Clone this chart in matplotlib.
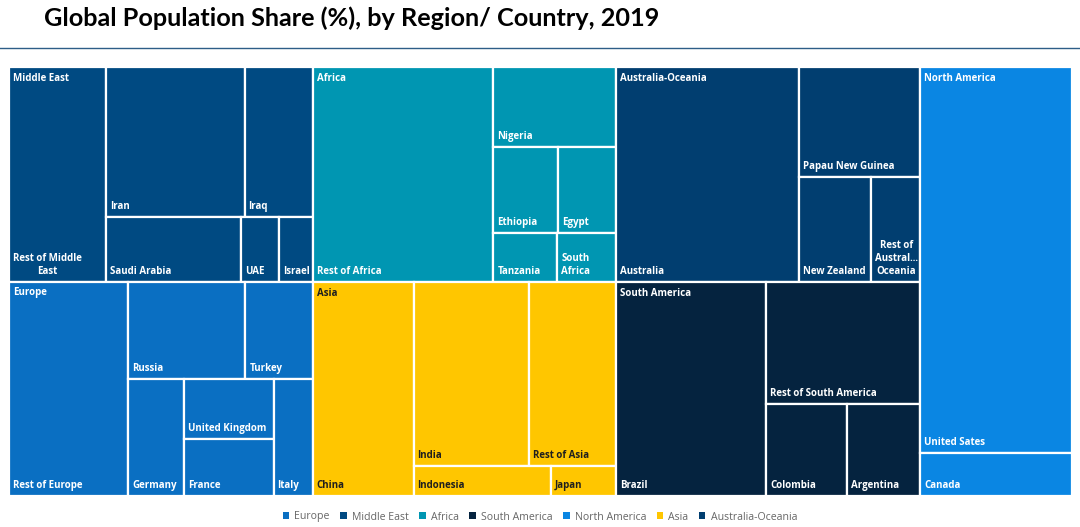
import numpy as np
import matplotlib
matplotlib.use('Agg')
import matplotlib.pyplot as plt
from matplotlib.patches import Rectangle, Patch

# region order as it is laid out in the treemap (each region sums to 100 %)
regions = ['Middle East', 'Europe', 'Africa', 'Asia',
           'Australia-Oceania', 'South America', 'North America']
region_colors = ['#004a82', '#0a6fc2', '#0096b2', '#ffc600',
                 '#013e70', '#05233f', '#0a86e3']
legend_order = ['Europe', 'Middle East', 'Africa', 'South America',
                'North America', 'Asia', 'Australia-Oceania']

me_names = ['Rest of Middle\nEast', 'Iran', 'Iraq', 'Saudi Arabia', 'UAE', 'Israel']
me_share = [32.0, 31.9, 15.7, 13.3, 3.8, 3.3]
eu_names = ['Rest of Europe', 'Russia', 'Turkey', 'Germany', 'United Kingdom', 'France', 'Italy']
eu_share = [39.3, 17.6, 10.1, 10.0, 8.2, 7.8, 7.0]
af_names = ['Rest of Africa', 'Nigeria', 'Ethiopia', 'Egypt', 'Tanzania', 'South\nAfrica']
af_share = [59.5, 15.1, 8.6, 7.7, 4.7, 4.4]
as_names = ['China', 'India', 'Rest of Asia', 'Indonesia', 'Japan']
as_share = [33.2, 32.6, 24.9, 6.3, 3.0]
oc_names = ['Australia', 'Papau New Guinea', 'New Zealand', 'Rest of\nAustral...\nOceania']
oc_share = [60.1, 20.5, 11.5, 7.9]
sa_names = ['Brazil', 'Rest of South America', 'Colombia', 'Argentina']
sa_share = [49.3, 29.0, 11.4, 10.3]
na_names = ['United Sates', 'Canada']
na_share = [90.0, 10.0]

leaf_names = [me_names, eu_names, af_names, as_names, oc_names, sa_names, na_names]
leaf_share = [me_share, eu_share, af_share, as_share, oc_share, sa_share, na_share]
region_totals = [sum(s) for s in leaf_share]


def worst(areas, side, column, T=1.2):
    # thickness of the strip and aspect (h/w) of every cell in it
    t = sum(areas) / side
    if column:
        asp = [(a / t) / t for a in areas]
    else:
        asp = [t / (a / t) for a in areas]
    return max(abs(np.log(r / T)) for r in asp)


def squarify(values, x, y, w, h):
    scale = w * h / float(sum(values))
    areas = [v * scale for v in values]
    rects = []
    i = 0
    n = len(areas)
    while i < n:
        column = w >= h
        side = h if column else w
        row = [areas[i]]
        best = worst(row, side, column)
        j = i + 1
        while j < n:
            c = worst(row + [areas[j]], side, column)
            if c > best:
                break
            row.append(areas[j])
            best = c
            j += 1
        t = sum(row) / side
        if column:
            yy = y
            for a in row:
                rects.append((x, yy, t, a / t))
                yy += a / t
            x += t
            w -= t
        else:
            xx = x
            for a in row:
                rects.append((xx, y, a / t, t))
                xx += a / t
            y += t
            h -= t
        i = j
    return rects


W, H = 1063.0, 429.0
fig = plt.figure(figsize=(10.8, 5.27), dpi=100)
ax = fig.add_axes([9 / 1080., 31 / 527., W / 1080., H / 527.])
ax.set_xlim(0, W)
ax.set_ylim(H, 0)
ax.axis('off')

lab = dict(fontsize=7.0, fontweight='bold', family='Open Sans')
region_rects = squarify(region_totals, 0, 0, W, H)
for k, (rx, ry, rw, rh) in enumerate(region_rects):
    col = region_colors[k]
    tcol = '#1f1f1f' if regions[k] == 'Asia' else 'white'
    for (x, y, w, h), name in zip(squarify(leaf_share[k], rx, ry, rw, rh), leaf_names[k]):
        ax.add_patch(Rectangle((x, y), w, h, facecolor=col, edgecolor='white', lw=1.6))
        ax.text(x + 4, y + h - 5, name, color=tcol, ha='left', va='bottom',
                multialignment='center', linespacing=1.2, **lab)
    ax.text(rx + 4, ry + 6, regions[k], color=tcol, ha='left', va='top', **lab)

fig.text(44 / 1080., 1 - 18 / 527., 'Global Population Share (%), by Region/ Country, 2019',
         fontsize=18.2, fontweight='bold', family='Lato', color='black',
         ha='left', va='center')
fig.add_artist(plt.Line2D([0, 1], [1 - 48 / 527.] * 2, color='#2d5d87', lw=1.0,
                          transform=fig.transFigure))

handles = [Patch(facecolor=region_colors[regions.index(r)], edgecolor='none') for r in legend_order]
leg = fig.legend(handles, legend_order, loc='center', bbox_to_anchor=(0.5, 1 - 517 / 527.),
                 ncol=7, frameon=False, fontsize=7.6, handlelength=0.6, handleheight=0.6,
                 handletextpad=0.5, columnspacing=1.0)
for t in leg.get_texts():
    t.set_color('#666666')
    t.set_family('Open Sans')

fig.savefig('out.png', dpi=100, facecolor='white')
